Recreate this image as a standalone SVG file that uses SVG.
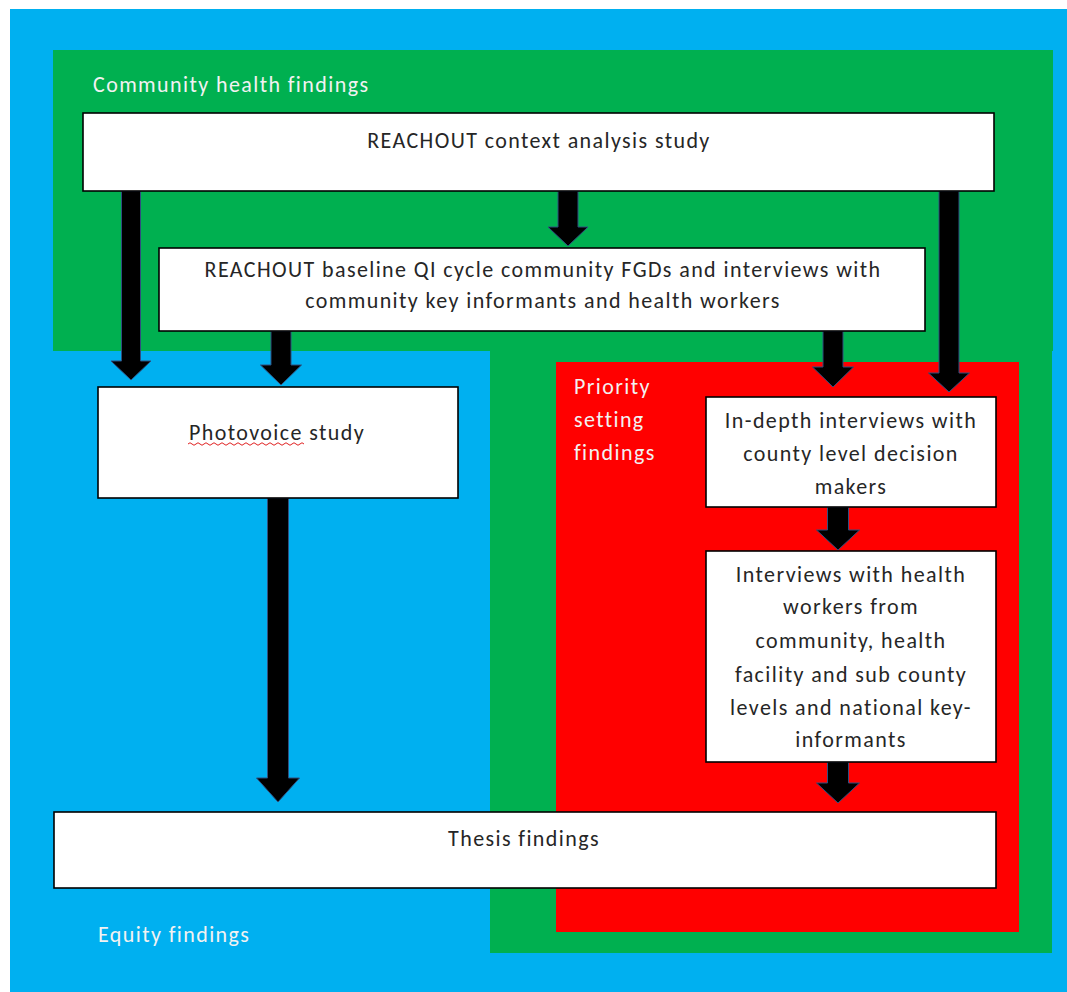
<svg xmlns="http://www.w3.org/2000/svg" width="1067" height="992" viewBox="0 0 1067 992">
  <style>
    .box { fill: #ffffff; stroke: #000000; stroke-width: 1.6; }
    .txt { font-family: Carlito, Lato, "Open Sans", sans-serif; font-size: 22px; letter-spacing: 1.4px; fill: #262626; text-anchor: middle; }
    .lbl { font-family: Carlito, Lato, "Open Sans", sans-serif; font-size: 22px; letter-spacing: 1.4px; fill: #f2f2f2; }
    .arrow { fill: #000000; stroke: #2f4f7f; stroke-width: 1; stroke-linejoin: miter; }
  </style>
  <rect x="0" y="0" width="1067" height="992" fill="#ffffff"/>

  <!-- Region backgrounds -->
  <g id="region-equity">
    <rect x="10" y="9" width="1057" height="983" fill="#00B0F0"/>
    <text class="lbl" x="98" y="942">Equity findings</text>
  </g>
  <g id="region-community">
    <path d="M53 50 H1053 V351 H1052 V953 H490 V351 H53 Z" fill="#00B050"/>
    <text class="lbl" x="93" y="92">Community health findings</text>
  </g>
  <g id="region-priority">
    <rect x="556" y="362" width="463" height="570" fill="#FF0000"/>
    <text class="lbl" x="574" y="394">Priority</text>
    <text class="lbl" x="574" y="427">setting</text>
    <text class="lbl" x="574" y="460">findings</text>
  </g>

  <!-- Connectors -->
  <g id="connectors">
    <polygon class="arrow" points="121.5,191 140.5,191 140.5,361 151,361 131,380 111,361 121.5,361"/>
    <polygon class="arrow" points="271,331 291,331 291,365 301.5,365 281,385 260.5,365 271,365"/>
    <polygon class="arrow" points="558,191 578,191 578,227 588,227 568,246 548,227 558,227"/>
    <polygon class="arrow" points="823,331 843,331 843,367 853.5,367 833,387 812.5,367 823,367"/>
    <polygon class="arrow" points="939,191 959,191 959,373 969.5,373 949,392 928.5,373 939,373"/>
    <polygon class="arrow" points="827.5,507 848.5,507 848.5,530 859.5,530 838,550 816.5,530 827.5,530"/>
    <polygon class="arrow" points="827.5,762 848.5,762 848.5,783 859.5,783 838,803 816.5,783 827.5,783"/>
    <polygon class="arrow" points="267.5,498 288.5,498 288.5,778 299.5,778 278,802 256.5,778 267.5,778"/>
  </g>

  <!-- Nodes -->
  <g id="node-context">
    <rect class="box" x="83" y="113" width="911" height="78"/>
    <text class="txt" x="539" y="148">REACHOUT context analysis study</text>
  </g>
  <g id="node-baseline">
    <rect class="box" x="159" y="248" width="766" height="83"/>
    <text class="txt" x="543" y="277">REACHOUT baseline QI cycle community FGDs and interviews with</text>
    <text class="txt" x="543" y="308">community key informants and health workers</text>
  </g>
  <g id="node-photovoice">
    <rect class="box" x="98" y="387" width="360" height="111"/>
    <text class="txt" x="277" y="440">Photovoice study</text>
    <path d="M188 444 q2 -2.5 4 0 t4 0 t4 0 t4 0 t4 0 t4 0 t4 0 t4 0 t4 0 t4 0 t4 0 t4 0 t4 0 t4 0 t4 0 t4 0 t4 0 t4 0 t4 0 t4 0 t4 0 t4 0 t4 0 t4 0 t4 0 t4 0 t4 0 t4 0 t4 0" fill="none" stroke="#e02020" stroke-width="1"/>
  </g>
  <g id="node-indepth">
    <rect class="box" x="706" y="397" width="290" height="110"/>
    <text class="txt" x="851" y="428">In-depth interviews with</text>
    <text class="txt" x="851" y="461">county level decision</text>
    <text class="txt" x="851" y="494">makers</text>
  </g>
  <g id="node-interviews">
    <rect class="box" x="706" y="551" width="290" height="211"/>
    <text class="txt" x="851" y="582">Interviews with health</text>
    <text class="txt" x="851" y="614">workers from</text>
    <text class="txt" x="851" y="648">community, health</text>
    <text class="txt" x="851" y="682">facility and sub county</text>
    <text class="txt" x="851" y="715">levels and national key-</text>
    <text class="txt" x="851" y="747">informants</text>
  </g>
  <g id="node-thesis">
    <rect class="box" x="54" y="812" width="942" height="76"/>
    <text class="txt" x="524" y="846">Thesis findings</text>
  </g>
</svg>
